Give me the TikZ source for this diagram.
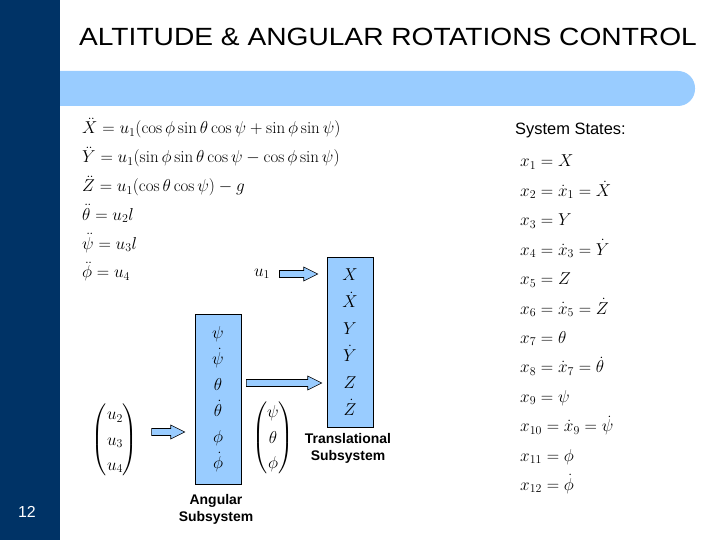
\documentclass[tikz,border=0pt]{standalone}
\usepackage{xcolor}
\usepackage{amsmath}
\usepackage{fontspec}
\setsansfont{Liberation Sans}
\usepackage{tikz}
\usetikzlibrary{positioning, calc}
\definecolor{mynavy}{RGB}{0,51,102}
\definecolor{myblue}{RGB}{153,204,255}
\tikzset{
  eqtxt/.style={anchor=base west, inner sep=0pt, font=\fontsize{17}{20}\selectfont},
  statebox/.style={rectangle, draw=black, fill=myblue, line width=0.6pt,
    minimum width=46bp, minimum height=170bp, align=center, inner sep=0pt},
  lbl/.style={align=center, font=\sffamily\bfseries\fontsize{14}{17}\selectfont},
  barrow/.style={draw=black, fill=myblue, line width=0.6pt, line join=miter}
}
% horizontal block arrow between two named coordinates
\newcommand{\blockarrow}[2]{%
  \draw[barrow] ($(#1)+(0,-3.5)$) -- ($(#2)+(-14,-3.5)$) -- ($(#2)+(-14,-7)$)
    -- (#2) -- ($(#2)+(-14,7)$) -- ($(#2)+(-14,3.5)$) -- ($(#1)+(0,3.5)$) -- cycle;}

\begin{document}
\begin{tikzpicture}[x=1bp, y=-1bp]
  \useasboundingbox (0,0) rectangle (720,540);
  \fill[white] (0,0) rectangle (720,540);

  % --- Slide frame ---
  \fill[mynavy] (0,0) rectangle (60,540);
  \fill[myblue, rounded corners=17bp] (40,71) rectangle (695,106);
  \fill[mynavy] (0,60) rectangle (60,120);
  \node[font=\sffamily\fontsize{25}{30}\selectfont, anchor=base] (title) at (388,46)
    {\scalebox{1.13}[1]{ALTITUDE \& ANGULAR ROTATIONS CONTROL}};
  \node[font=\sffamily\fontsize{16}{19}\selectfont, text=white] (page) at (27,512) {12};

  % --- Equations of motion ---
  \node[eqtxt] (eq1) at (82,134) {$\ddot X = u_1(\cos\phi\sin\theta\cos\psi + \sin\phi\sin\psi)$};
  \node[eqtxt] (eq2) at (82,162.8) {$\ddot Y = u_1(\sin\phi\sin\theta\cos\psi - \cos\phi\sin\psi)$};
  \node[eqtxt] (eq3) at (82,191.6) {$\ddot Z = u_1(\cos\theta\cos\psi) - g$};
  \node[eqtxt] (eq4) at (82,220.4) {$\ddot\theta = u_2 l$};
  \node[eqtxt] (eq5) at (82,249.2) {$\ddot\psi = u_3 l$};
  \node[eqtxt] (eq6) at (82,278) {$\ddot\phi = u_4$};

  % --- System states ---
  \node[anchor=base west, inner sep=0pt, font=\sffamily\fontsize{16.5}{19}\selectfont] (sys) at (515,135) {System States:};
  \node[eqtxt] (s1) at (520,167) {$x_1 = X$};
  \node[eqtxt] (s2) at (520,196.4) {$x_2 = \dot x_1 = \dot X$};
  \node[eqtxt] (s3) at (520,225.8) {$x_3 = Y$};
  \node[eqtxt] (s4) at (520,255.2) {$x_4 = \dot x_3 = \dot Y$};
  \node[eqtxt] (s5) at (520,284.6) {$x_5 = Z$};
  \node[eqtxt] (s6) at (520,314) {$x_6 = \dot x_5 = \dot Z$};
  \node[eqtxt] (s7) at (520,343.4) {$x_7 = \theta$};
  \node[eqtxt] (s8) at (520,372.8) {$x_8 = \dot x_7 = \dot\theta$};
  \node[eqtxt] (s9) at (520,402.2) {$x_9 = \psi$};
  \node[eqtxt] (s10) at (520,431.6) {$x_{10} = \dot x_9 = \dot\psi$};
  \node[eqtxt] (s11) at (520,461) {$x_{11} = \phi$};
  \node[eqtxt] (s12) at (520,490.4) {$x_{12} = \dot\phi$};

  % --- Subsystems ---
  \node[statebox, font=\fontsize{17}{27}\selectfont] (trans) at (350,342)
    {$X$\\$\dot X$\\$Y$\\$\dot Y$\\$Z$\\$\dot Z$};
  \node[lbl] (translbl) at (348,448.5) {Translational\\Subsystem};
  \node[statebox, font=\fontsize{17}{26}\selectfont] (ang) at (218,399)
    {$\psi$\\$\dot\psi$\\$\theta$\\$\dot\theta$\\$\phi$\\$\dot\phi$};
  \node[lbl] (anglbl) at (216,509) {Angular\\Subsystem};

  \node[font=\fontsize{17}{20}\selectfont] (u1) at (262,274) {$u_1$};
  \node[font=\fontsize{17}{21}\selectfont] (uvec) at (115,440)
    {\def\arraystretch{1.2}$\begin{pmatrix} u_2\\ u_3\\ u_4 \end{pmatrix}$};
  \node[font=\fontsize{17}{21}\selectfont] (pvec) at (273,438)
    {\def\arraystretch{1.2}$\begin{pmatrix} \psi\\ \theta\\ \phi \end{pmatrix}$};

  % --- Block arrows ---
  \coordinate (a1s) at ($(u1.east)+(6,0)$);
  \coordinate (a1e) at ($(trans.west |- u1)+(-9,0)$);
  \blockarrow{a1s}{a1e}
  \coordinate (a2s) at ($(ang.east)+(5,-16)$);
  \coordinate (a2e) at ($(trans.west |- a2s)+(-5,0)$);
  \blockarrow{a2s}{a2e}
  \coordinate (a3s) at ($(uvec.east)+(10,-8)$);
  \coordinate (a3e) at ($(ang.west |- a3s)+(-10,0)$);
  \blockarrow{a3s}{a3e}
\end{tikzpicture}
\end{document}
